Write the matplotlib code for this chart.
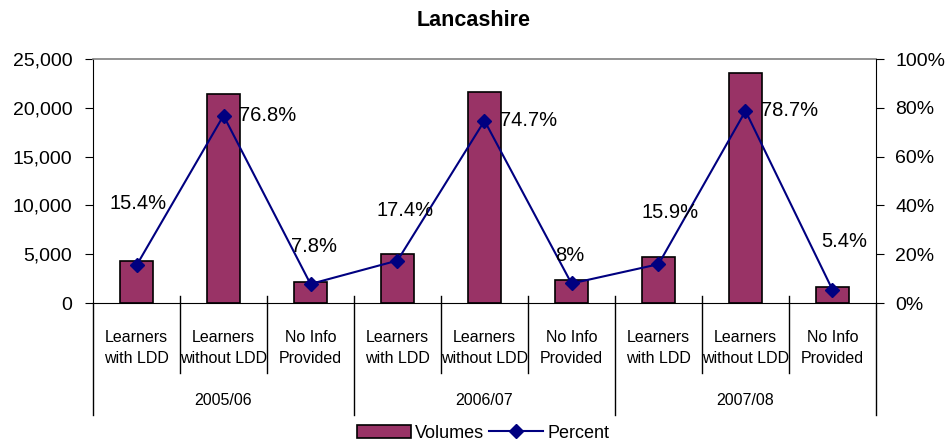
import matplotlib.pyplot as plt
import matplotlib.transforms as mtransforms
from matplotlib.ticker import FuncFormatter
from matplotlib.patches import Patch
from matplotlib.lines import Line2D
import numpy as np

plt.rcParams['font.family'] = ['Liberation Sans Narrow', 'Liberation Sans', 'DejaVu Sans']

# Data
years = ['2005/06', '2006/07', '2007/08']
groups = ['Learners\nwith LDD', 'Learners\nwithout LDD', 'No Info\nProvided']
volumes = [4300, 21430, 2180, 5040, 21640, 2320, 4750, 23530, 1610]
percent = [15.4, 76.8, 7.8, 17.4, 74.7, 8.0, 15.9, 78.7, 5.4]
pct_labels = ['15.4%', '76.8%', '7.8%', '17.4%', '74.7%', '8%', '15.9%', '78.7%', '5.4%']

# label offsets in pixels (dx, dy) from each marker, as in the original layout
label_offsets = [(2, 62), (44, 0), (4, 37), (8, 50), (44, 0), (-2, 28), (12, 52), (44, 0), (12, 48)]

bar_color = '#993366'
line_color = '#000080'

fig = plt.figure(figsize=(9.46, 4.44), dpi=100)
ax = fig.add_axes([93 / 946, 1 - 303 / 444, (876 - 93) / 946, 244 / 444])

n = len(volumes)
x = np.arange(n)
ax.bar(x, volumes, width=0.39, color=bar_color, edgecolor='black', linewidth=1.2, zorder=2)
ax.set_xlim(-0.5, n - 0.5)
ax.set_ylim(0, 25000)
ax.set_yticks(np.arange(0, 25001, 5000))
ax.yaxis.set_major_formatter(FuncFormatter(lambda v, p: f'{int(v):,}'))
ax.tick_params(axis='y', direction='out', length=6, labelsize=14, pad=9, colors='black')
ax.set_xticks([])
ax.spines['top'].set_color('#808080')
ax.spines['top'].set_linewidth(1.2)
for s in ['left', 'bottom']:
    ax.spines[s].set_color('black')
ax.spines['right'].set_visible(False)

# secondary axis for percent
ax2 = ax.twinx()
ax2.plot(x, np.array(percent) / 100, color=line_color, marker='D', markersize=7, linewidth=1.5, zorder=3)
ax2.set_ylim(0, 1)
ax2.set_yticks(np.arange(0, 1.01, 0.2))
ax2.yaxis.set_major_formatter(FuncFormatter(lambda v, p: f'{int(round(v * 100))}%'))
ax2.tick_params(axis='y', direction='out', length=6, labelsize=14, pad=8, colors='black')
ax2.spines['right'].set_color('black')
ax2.spines['top'].set_visible(False)
ax2.spines['left'].set_visible(False)
ax2.spines['bottom'].set_visible(False)

for xi, p, lab, (dx, dy) in zip(x, percent, pct_labels, label_offsets):
    ax2.annotate(lab, (xi, p / 100), xytext=(dx * 0.72, dy * 0.72), textcoords='offset points',
                 ha='center', va='center', fontsize=14.5)

# multi-level category axis
trans = mtransforms.blended_transform_factory(ax.transData, ax.transAxes)
for i in range(n + 1):
    xb = i - 0.5
    if i % 3 == 0:
        top = 0.0 if i in (0, n) else 0.029
        ax.plot([xb, xb], [top, -0.459], color='black', lw=1, transform=trans, clip_on=False)
    else:
        ax.plot([xb, xb], [0.029, -0.287], color='black', lw=1, transform=trans, clip_on=False)

for i in range(n):
    ax.text(i, -0.184, groups[i % 3], transform=trans, ha='center', va='center',
            fontsize=11.5, linespacing=1.5)
for j, yr in enumerate(years):
    ax.text(3 * j + 1, -0.398, yr, transform=trans, ha='center', va='center', fontsize=11.5)

fig.text(474 / 946, 1 - 20 / 444, 'Lancashire', ha='center', va='center', fontsize=15.5,
         fontweight='bold', family=['Liberation Sans', 'DejaVu Sans'])

# legend
handles = [Patch(facecolor=bar_color, edgecolor='black', linewidth=1.2),
           Line2D([], [], color=line_color, marker='D', markersize=7, linewidth=1.5)]
fig.legend(handles, ['Volumes', 'Percent'], loc='center', bbox_to_anchor=(483 / 946, 1 - 433 / 444),
           ncol=2, frameon=False, fontsize=13, handlelength=3.0, handletextpad=0.2,
           columnspacing=0.3, borderpad=0)

fig.savefig('out.png', dpi=100)
